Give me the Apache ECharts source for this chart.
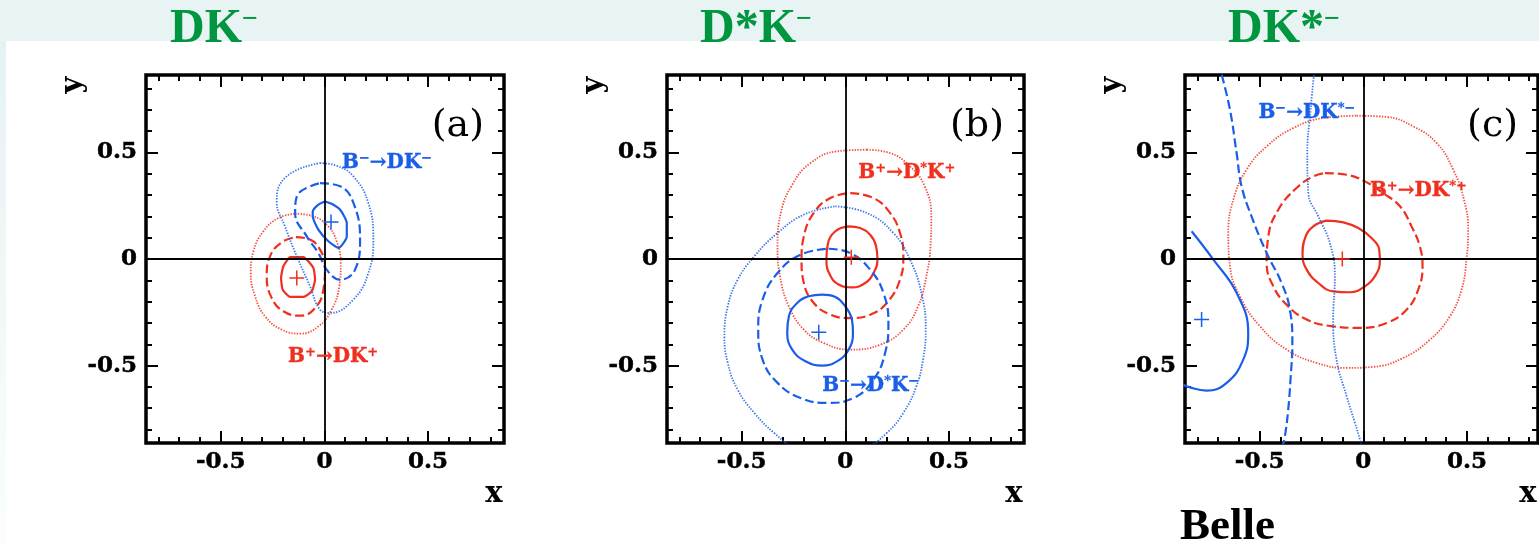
<!DOCTYPE html>
<html><head><meta charset="utf-8">
<script src="https://cdn.jsdelivr.net/npm/echarts@6/dist/echarts.min.js"></script>
<style>html,body{margin:0;padding:0;background:#fff}#c{width:1539px;height:544px}</style>
</head><body><div id="c"></div>
<script>
// ---------- tick values ----------
const ticksMajor = [-0.5, 0, 0.5];
const ticksMinor = [-0.8,-0.7,-0.6,-0.4,-0.3,-0.2,-0.1,0.1,0.2,0.3,0.4,0.6,0.7,0.8];

// ---------- panel texts ----------
const panelTitles = ['DK', 'D*K', 'DK*'];
const panelTags = ['(a)', '(b)', '(c)'];

// ---------- panel (a): DK ----------
const aRedBest = [[-0.133, -0.089]];
const aRedSolid = [[-0.169,0.009],[-0.101,0.009],[-0.053,-0.042],[-0.045,-0.097],[-0.061,-0.152],[-0.101,-0.178],[-0.166,-0.178],[-0.201,-0.144],[-0.209,-0.089],[-0.198,-0.034]];
const aRedDashed = [[-0.137,0.103],[-0.069,0.091],[-0.021,0.044],[0.003,-0.034],[-0.005,-0.144],[-0.045,-0.23],[-0.117,-0.266],[-0.198,-0.245],[-0.254,-0.183],[-0.278,-0.081],[-0.262,0.0125],[-0.206,0.078]];
const aRedDotted = [[-0.141,0.2125],[-0.053,0.2],[0.019,0.153],[0.059,0.083],[0.079,-0.019],[0.072,-0.128],[0.035,-0.2375],[-0.029,-0.316],[-0.117,-0.35],[-0.206,-0.331],[-0.286,-0.269],[-0.334,-0.175],[-0.355,-0.066],[-0.342,0.036],[-0.294,0.13],[-0.222,0.192]];
const aBlueBest = [[0.032, 0.173]];
const aBlueSolid = [[0.003,0.270],[0.035,0.259],[0.076,0.231],[0.108,0.169],[0.108,0.106],[0.068,0.052],[0.019,0.083],[-0.029,0.1375],[-0.056,0.2],[-0.056,0.223],[-0.029,0.255]];
const aBlueDashed = [[-0.021,0.356],[0.076,0.341],[0.14,0.263],[0.172,0.091],[0.148,-0.05],[0.076,-0.097],[0.011,-0.05],[-0.029,0.028],[-0.085,0.106],[-0.141,0.216],[-0.133,0.294]];
const aBlueDotted = [[-0.021,0.45],[0.059,0.4375],[0.14,0.3875],[0.212,0.2625],[0.236,0.091],[0.212,-0.066],[0.14,-0.19],[0.027,-0.253],[-0.021,-0.2375],[-0.069,-0.128],[-0.133,0.0125],[-0.19,0.153],[-0.23,0.27],[-0.182,0.3875]];

// ---------- panel (b): D*K ----------
const bRedBest = [[0.029, 0.008]];
const bRedSolid = [[0.016,0.153],[0.072,0.145],[0.12,0.114],[0.149,0.059],[0.155,-0.003],[0.136,-0.066],[0.096,-0.1125],[0.032,-0.133],[-0.032,-0.12],[-0.075,-0.073],[-0.091,-0.003],[-0.085,0.067],[-0.048,0.13]];
const bRedDashed = [[0.024,0.309],[0.136,0.286],[0.216,0.216],[0.264,0.122],[0.28,0.0125],[0.264,-0.097],[0.2,-0.206],[0.12,-0.261],[0.024,-0.277],[-0.072,-0.261],[-0.152,-0.206],[-0.2,-0.1125],[-0.211,-0.003],[-0.2,0.106],[-0.152,0.216],[-0.072,0.286]];
const bRedDotted = [[0.104,0.5125],[0.216,0.497],[0.312,0.434],[0.383,0.341],[0.415,0.2],[0.411,0.059],[0.391,-0.081],[0.351,-0.222],[0.28,-0.331],[0.168,-0.402],[0.024,-0.425],[-0.104,-0.394],[-0.2,-0.331],[-0.272,-0.222],[-0.315,-0.081],[-0.327,0.059],[-0.311,0.216],[-0.256,0.348],[-0.168,0.45],[-0.04,0.505]];
const bBlueBest = [[-0.128, -0.344]];
const bBlueSolid = [[-0.112,-0.167],[-0.048,-0.178],[0,-0.222],[0.032,-0.284],[0.037,-0.347],[0.016,-0.425],[-0.04,-0.48],[-0.112,-0.5],[-0.192,-0.48],[-0.256,-0.425],[-0.28,-0.347],[-0.272,-0.269],[-0.232,-0.206],[-0.176,-0.175]];
const bBlueDashed = [[-0.08,0.048],[0.024,0.028],[0.12,-0.05],[0.184,-0.159],[0.208,-0.3],[0.192,-0.441],[0.136,-0.566],[0.04,-0.652],[-0.088,-0.675],[-0.216,-0.652],[-0.327,-0.581],[-0.399,-0.472],[-0.42,-0.331],[-0.399,-0.191],[-0.327,-0.066],[-0.216,0.02]];
const bBlueDotted = [[-0.048,0.247],[0.104,0.216],[0.232,0.122],[0.312,-0.003],[0.367,-0.159],[0.388,-0.331],[0.375,-0.472],[0.343,-0.597],[0.28,-0.722],[0.2,-0.816],[0.088,-0.894],[-0.072,-0.933],[-0.232,-0.894],[-0.343,-0.816],[-0.439,-0.722],[-0.519,-0.613],[-0.567,-0.4875],[-0.583,-0.3625],[-0.567,-0.222],[-0.519,-0.097],[-0.439,0.0125],[-0.327,0.122],[-0.2,0.208]];

// ---------- panel (c): DK* ----------
const cRedBest = [[-0.101, 0.0]];
const cRedSolid = [[-0.177,0.18],[-0.096,0.172],[-0.024,0.145],[0.04,0.098],[0.077,0.044],[0.08,-0.011],[0.061,-0.073],[0.008,-0.128],[-0.064,-0.156],[-0.145,-0.152],[-0.217,-0.1125],[-0.273,-0.05],[-0.293,0.02],[-0.281,0.098],[-0.241,0.153]];
const cRedDashed = [[-0.185,0.403],[-0.08,0.395],[0.008,0.364],[0.096,0.309],[0.177,0.247],[0.233,0.153],[0.273,0.059],[0.286,-0.034],[0.265,-0.144],[0.209,-0.2375],[0.113,-0.3],[-0.016,-0.323],[-0.145,-0.316],[-0.273,-0.284],[-0.37,-0.214],[-0.434,-0.128],[-0.466,-0.019],[-0.458,0.106],[-0.41,0.231],[-0.322,0.333],[-0.241,0.3875]];
const cRedDotted = [[-0.032,0.672],[0.113,0.666],[0.241,0.622],[0.354,0.544],[0.434,0.419],[0.486,0.278],[0.506,0.1375],[0.498,-0.003],[0.474,-0.144],[0.418,-0.269],[0.322,-0.378],[0.193,-0.464],[0.048,-0.506],[-0.08,-0.511],[-0.225,-0.4875],[-0.37,-0.425],[-0.498,-0.316],[-0.595,-0.175],[-0.643,-0.034],[-0.651,0.122],[-0.627,0.278],[-0.563,0.419],[-0.466,0.528],[-0.338,0.614],[-0.193,0.661]];
const cBlueBest = [[-0.78, -0.284]];
const cBlueSolid = [[-0.828,0.130],[-0.723,-0.003],[-0.611,-0.159],[-0.555,-0.347],[-0.579,-0.472],[-0.659,-0.581],[-0.756,-0.617],[-0.844,-0.6],[-0.868,-0.589]];
const cBlueDashed = [[-0.683,0.864],[-0.643,0.7],[-0.611,0.497],[-0.587,0.341],[-0.539,0.2],[-0.466,0.028],[-0.394,-0.1125],[-0.354,-0.2375],[-0.342,-0.394],[-0.35,-0.55],[-0.362,-0.706],[-0.378,-0.831],[-0.389,-0.878]];
const cBlueDotted = [[-0.238,0.864],[-0.254,0.7],[-0.27,0.497],[-0.265,0.309],[-0.217,0.2],[-0.161,0.075],[-0.137,-0.081],[-0.145,-0.284],[-0.129,-0.472],[-0.08,-0.644],[-0.04,-0.769],[-0.016,-0.847],[-0.008,-0.878]];

// ---------- annotation labels (data coordinates of left/middle) ----------
const aLabels = [
  {parts: [['n','B'],['s','−'],['n','→DK'],['s','−']], pos: [0.085, 0.45], col: 'blue'},
  {parts: [['n','B'],['s','+'],['n','→DK'],['s','+']], pos: [-0.175, -0.461], col: 'red'}
];
const bLabels = [
  {parts: [['n','B'],['s','+'],['n','→D'],['s','*'],['n','K'],['s','+']], pos: [0.063, 0.403], col: 'red'},
  {parts: [['n','B'],['s','−'],['n','→D'],['s','*'],['n','K'],['s','−']], pos: [-0.111, -0.594], col: 'blue'}
];
const cLabels = [
  {parts: [['n','B'],['s','−'],['n','→DK'],['s','*−']], pos: [-0.506, 0.684], col: 'blue'},
  {parts: [['n','B'],['s','+'],['n','→DK'],['s','*+']], pos: [0.032, 0.32], col: 'red'}
];

// ---------- styling / layout ----------
const RED = '#f0301f', BLUE = '#1a5ee8', GREEN = '#00953f';
const COLORS = {red: RED, blue: BLUE};
const YMIN = -0.863, YMAX = 0.863;
const layout = [
  {left: 146, top: 75, width: 358, height: 368, xmin: -0.86, xmax: 0.866},
  {left: 667, top: 75, width: 357, height: 368, xmin: -0.86, xmax: 0.862},
  {left: 1185, top: 75, width: 353, height: 368, xmin: -0.86, xmax: 0.843}
];
const panelData = [
  {rs: aRedSolid, rd: aRedDashed, rt: aRedDotted, rb: aRedBest, bs: aBlueSolid, bd: aBlueDashed, bt: aBlueDotted, bb: aBlueBest, labels: aLabels, closedBlue: true},
  {rs: bRedSolid, rd: bRedDashed, rt: bRedDotted, rb: bRedBest, bs: bBlueSolid, bd: bBlueDashed, bt: bBlueDotted, bb: bBlueBest, labels: bLabels, closedBlue: true},
  {rs: cRedSolid, rd: cRedDashed, rt: cRedDotted, rb: cRedBest, bs: cBlueSolid, bd: cBlueDashed, bt: cBlueDotted, bb: cBlueBest, labels: cLabels, closedBlue: false}
];

const FONT = 'DejaVu Serif';
const close = a => a.concat([a[0]]);
const PLUS = 'path://M-0.1,-1L0.1,-1L0.1,-0.1L1,-0.1L1,0.1L0.1,0.1L0.1,1L-0.1,1L-0.1,0.1L-1,0.1L-1,-0.1L-0.1,-0.1Z';

const grids = [], xAxes = [], yAxes = [], series = [], graphics = [];

graphics.push({type: 'rect', z: -100, shape: {x: 6, y: 41, width: 1533, height: 503}, style: {fill: '#ffffff'}});
graphics.push({type: 'rect', z: -100, shape: {x: 0, y: 41, width: 6, height: 503},
  style: {fill: new echarts.graphic.LinearGradient(0, 0, 0, 1, [{offset: 0, color: '#e6f2f2'}, {offset: 1, color: '#fbfdfd'}])}});

function axisDef(dim, gi, pos, values, len, withLabels, min, max) {
  return {
    type: 'value', gridIndex: gi, position: pos, min: min, max: max,
    axisLine: {show: false, onZero: false},
    splitLine: {show: false},
    axisTick: {show: true, inside: true, length: len, customValues: values, lineStyle: {color: '#000', width: 2}},
    axisLabel: withLabels ? {
      show: true, customValues: values, color: '#000', fontFamily: FONT, fontWeight: 'bold',
      fontSize: 23, margin: dim === 'x' ? 8 : 9, textBorderColor: '#000', textBorderWidth: 0.5
    } : {show: false}
  };
}

layout.forEach((L, p) => {
  grids.push({left: L.left, top: L.top, width: L.width, height: L.height, show: true,
    borderColor: '#000', borderWidth: 3.5, backgroundColor: 'transparent', containLabel: false});
  const xi = xAxes.length, yi = yAxes.length;
  xAxes.push(axisDef('x', p, 'bottom', ticksMajor, 12, true, L.xmin, L.xmax));
  xAxes.push(axisDef('x', p, 'bottom', ticksMinor, 6, false, L.xmin, L.xmax));
  xAxes.push(axisDef('x', p, 'top', ticksMajor, 12, false, L.xmin, L.xmax));
  xAxes.push(axisDef('x', p, 'top', ticksMinor, 6, false, L.xmin, L.xmax));
  yAxes.push(axisDef('y', p, 'left', ticksMajor, 12, true, YMIN, YMAX));
  yAxes.push(axisDef('y', p, 'left', ticksMinor, 6, false, YMIN, YMAX));
  yAxes.push(axisDef('y', p, 'right', ticksMajor, 12, false, YMIN, YMAX));
  yAxes.push(axisDef('y', p, 'right', ticksMinor, 6, false, YMIN, YMAX));

  const D = panelData[p];
  const base = {type: 'line', xAxisIndex: xi, yAxisIndex: yi, symbol: 'none', showSymbol: false,
    silent: true, animation: false, clip: true, z: 3};
  const mk = (data, color, width, type, smooth, opacity) => Object.assign({}, base, {
    data: data, smooth: smooth,
    lineStyle: {color: color, width: width, type: type, opacity: opacity}
  });
  series.push(mk(close(D.rt), RED, 1.8, [1.4, 1.4], 0.45, 0.85));
  series.push(mk(close(D.rd), RED, 2.2, [9, 4], 0.45, 1));
  series.push(mk(close(D.rs), RED, 2.2, 'solid', p === 0 ? 0.15 : 0.45, 1));
  series.push(mk(D.closedBlue ? close(D.bt) : D.bt, BLUE, 1.8, [1.4, 1.4], 0.45, 0.85));
  series.push(mk(D.closedBlue ? close(D.bd) : D.bd, BLUE, 2.2, [9, 4], 0.45, 1));
  series.push(mk(D.closedBlue ? close(D.bs) : D.bs, BLUE, 2.2, 'solid', p === 0 ? 0.2 : 0.45, 1));

  // zero lines
  series.push({type: 'line', xAxisIndex: xi, yAxisIndex: yi, data: [], silent: true, animation: false, z: 6,
    markLine: {silent: true, animation: false, symbol: ['none', 'none'], label: {show: false},
      lineStyle: {color: '#000', width: 1.8, type: 'solid'},
      data: [{xAxis: 0}, {yAxis: 0}]}});

  // best-fit crosses
  series.push({type: 'scatter', xAxisIndex: xi, yAxisIndex: yi, data: D.rb, symbol: PLUS, symbolSize: 15,
    itemStyle: {color: RED, opacity: 1}, silent: true, animation: false, z: 5});
  series.push({type: 'scatter', xAxisIndex: xi, yAxisIndex: yi, data: D.bb, symbol: PLUS, symbolSize: 15,
    itemStyle: {color: BLUE, opacity: 1}, silent: true, animation: false, z: 5});

  // annotation labels
  series.push({type: 'scatter', xAxisIndex: xi, yAxisIndex: yi, symbolSize: 0, silent: true, animation: false, z: 7,
    itemStyle: {opacity: 1},
    data: D.labels.map(l => ({
      value: l.pos,
      label: {
        show: true, position: 'right', distance: 0, opacity: 1,
        formatter: l.parts.map(t => '{' + t[0] + '|' + t[1] + '}').join(''),
        rich: {
          n: {fontFamily: FONT, fontWeight: 'bold', fontSize: 20, lineHeight: 22, color: COLORS[l.col],
              textBorderColor: COLORS[l.col], textBorderWidth: 0.4},
          s: {fontFamily: FONT, fontWeight: 'bold', fontSize: 13, lineHeight: 13, verticalAlign: 'top', color: COLORS[l.col],
              textBorderColor: COLORS[l.col], textBorderWidth: 0.3}
        }
      }
    }))});

  // panel tag (a)/(b)/(c)
  graphics.push({type: 'text', z: 10, x: L.left + L.width - 20, y: 126,
    style: {text: panelTags[p], fontFamily: FONT, fontSize: 38, fill: '#000', align: 'right', verticalAlign: 'middle'}});
  // axis names
  graphics.push({type: 'text', z: 10, x: L.left + L.width - 10, y: 494,
    style: {text: 'x', fontFamily: FONT, fontWeight: 'bold', fontSize: 29, fill: '#000', align: 'center', verticalAlign: 'middle'}});
  graphics.push({type: 'text', z: 10, x: L.left - 73, y: 85, rotation: Math.PI / 2,
    style: {text: 'y', fontFamily: FONT, fontWeight: 'bold', fontSize: 29, fill: '#000', align: 'center', verticalAlign: 'middle'}});
});

// big green titles
const titleX = [170, 700, 1228];
panelTitles.forEach((t, i) => {
  graphics.push({type: 'text', z: 10, x: titleX[i], y: 30,
    style: {text: '{t|' + t + '}{s|−}', align: 'left', verticalAlign: 'middle',
      rich: {
        t: {fontFamily: 'Liberation Serif', fontWeight: 'bold', fontSize: 48, lineHeight: 48, fill: GREEN},
        s: {fontFamily: 'Liberation Serif', fontWeight: 'bold', fontSize: 28, lineHeight: 28, verticalAlign: 'top', fill: GREEN}
      }}});
});
graphics.push({type: 'text', z: 10, x: 1180, y: 527,
  style: {text: 'Belle', fontFamily: 'Liberation Serif', fontWeight: 'bold', fontSize: 45, fill: '#000', align: 'left', verticalAlign: 'middle'}});

const chart = echarts.init(document.getElementById('c'), null, {renderer: 'canvas'});
chart.setOption({
  backgroundColor: '#e8f3f3',
  animation: false,
  grid: grids, xAxis: xAxes, yAxis: yAxes, series: series,
  graphic: {elements: graphics}
});
</script></body></html>
